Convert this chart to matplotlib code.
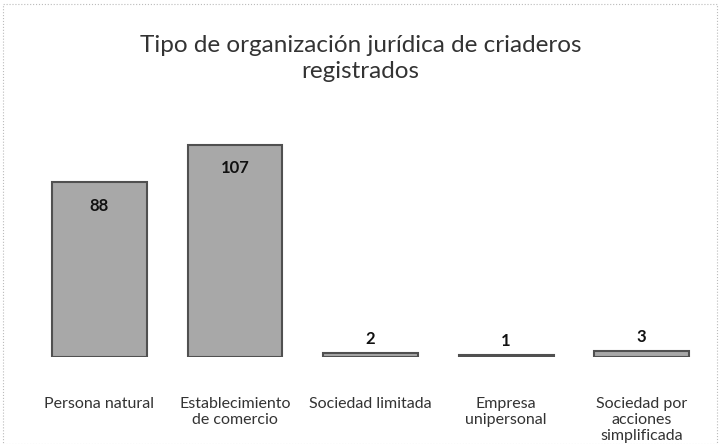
import matplotlib
matplotlib.use("Agg")
import matplotlib.pyplot as plt
from matplotlib.patches import Rectangle

categories = ["Persona natural", "Establecimiento\nde comercio", "Sociedad limitada",
              "Empresa\nunipersonal", "Sociedad por\nacciones\nsimplificada"]
values = [88, 107, 2, 1, 3]
title = "Tipo de organización jurídica de criaderos\nregistrados"

plt.rcParams['font.family'] = ['Lato', 'DejaVu Sans']

fig = plt.figure(figsize=(7.21, 4.44), dpi=100)
ax = fig.add_axes([0.044, 0.196, 0.94, 0.536])

x = range(len(categories))
bars = ax.bar(x, values, width=0.7, color="#a8a8a8", edgecolor="#505050", linewidth=1.5)

for rect, v in zip(bars, values):
    cx = rect.get_x() + rect.get_width() / 2
    if v > 20:
        ax.annotate(str(v), (cx, v), xytext=(0, -11), textcoords="offset points",
                    ha="center", va="top", fontsize=12, fontweight="bold", color="#111111")
    else:
        ax.annotate(str(v), (cx, v), xytext=(0, 4), textcoords="offset points",
                    ha="center", va="bottom", fontsize=12, fontweight="bold", color="#111111")

ax.set_xlim(-0.5, len(categories) - 0.5)
ax.set_ylim(0, 120)
ax.set_xticks(list(x))
ax.set_xticklabels(categories, fontsize=11.5, color="#333333", linespacing=1.18)
ax.tick_params(axis="x", length=0, pad=29)
ax.set_yticks([])
for s in ax.spines.values():
    s.set_visible(False)

fig.text(0.5, 0.868, title, ha="center", va="center", fontsize=17.5, color="#333333",
         linespacing=1.3)

fig.patches.append(Rectangle((0.004, 0.0), 0.99, 0.99, transform=fig.transFigure,
                             fill=False, edgecolor="#bbbbbb", linewidth=0.8, linestyle=":"))

fig.savefig("out.png", dpi=100)
